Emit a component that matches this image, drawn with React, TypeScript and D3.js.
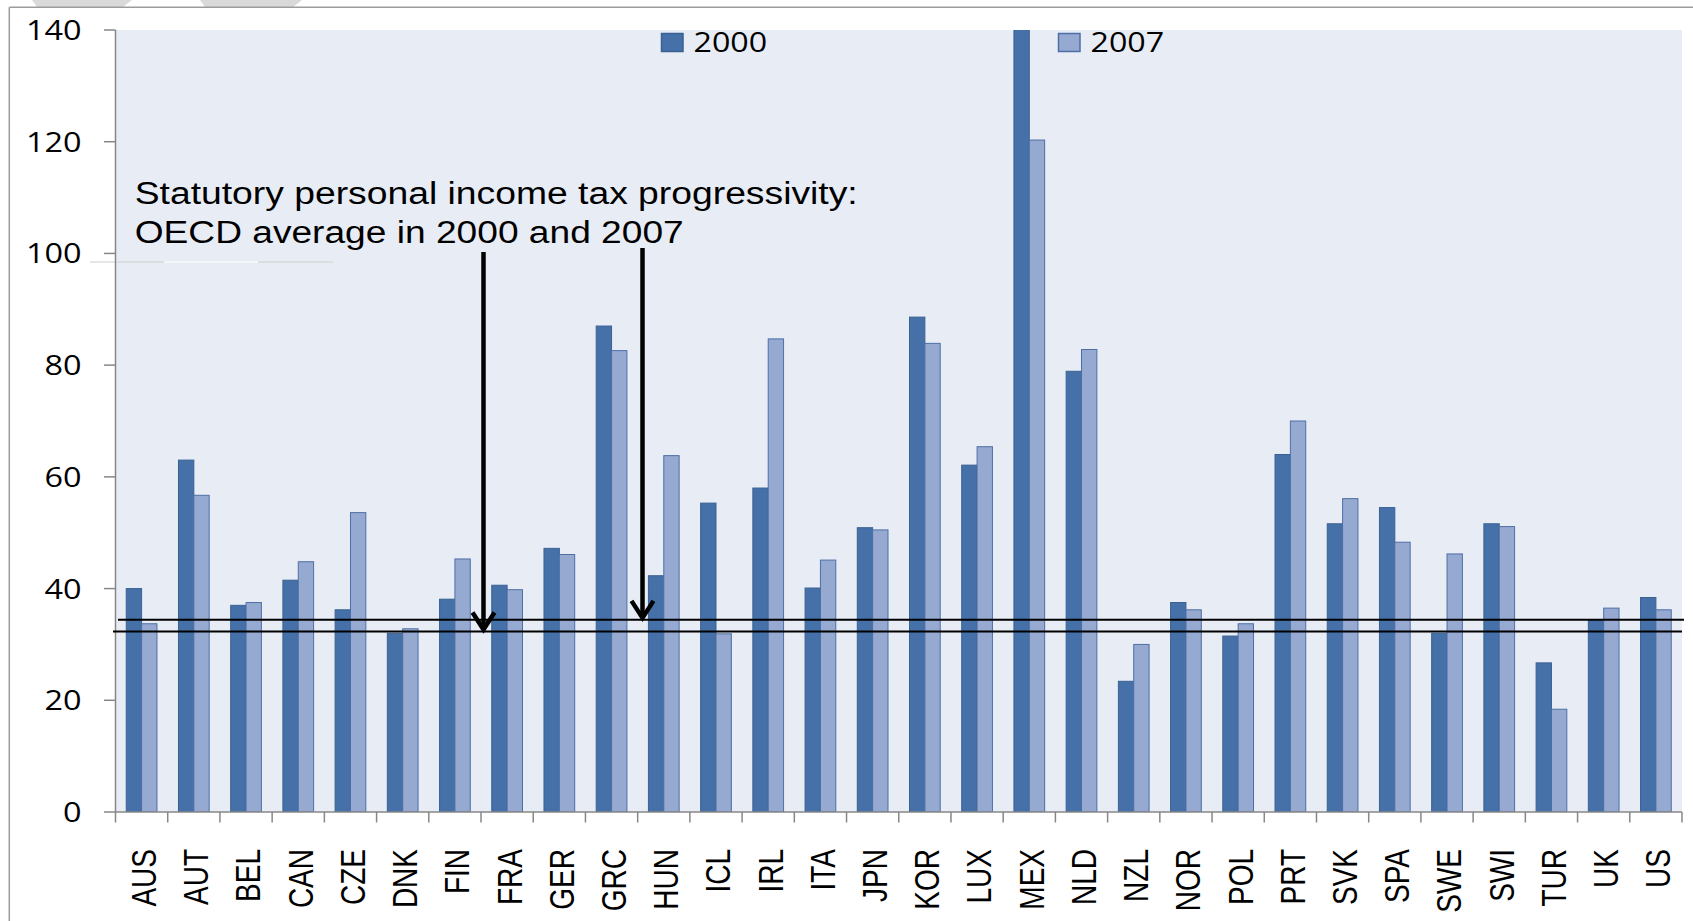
import React from "react";
import * as d3 from "d3";

const categories = ["AUS","AUT","BEL","CAN","CZE","DNK","FIN","FRA","GER","GRC","HUN","ICL","IRL","ITA","JPN","KOR","LUX","MEX","NLD","NZL","NOR","POL","PRT","SVK","SPA","SWE","SWI","TUR","UK","US"];
const values2000 = [40.0,63.0,37.0,41.5,36.2,32.0,38.1,40.6,47.2,87.0,42.3,55.3,58.0,40.1,50.9,88.6,62.1,145,78.9,23.4,37.5,31.5,64.0,51.6,54.5,32.0,51.6,26.7,34.3,38.4];
const values2007 = [33.7,56.7,37.5,44.8,53.6,32.8,45.3,39.8,46.1,82.6,63.8,31.9,84.7,45.1,50.5,83.9,65.4,120.3,82.8,30.0,36.2,33.7,70.0,56.1,48.3,46.2,51.1,18.4,36.5,36.2];
const seriesNames = ["2000", "2007"];
const yTicks = [0,20,40,60,80,100,120,140];
const oecdAverages = [32.3, 34.4]; // 2000, 2007
const annotationLines = ["Statutory personal income tax progressivity:", "OECD average in 2000 and 2007"];

const W = 1693, H = 921;
const left = 115.5, right = 1682, top = 30, bottom = 812;

const colors = { "2000": "#4571A8", "2007": "#95A9D1" };
const strokes = { "2000": "#3A6193", "2007": "#4E6FA6" };

export default function App() {
  const x0 = d3.scaleBand<string>().domain(categories).range([left, right]).paddingInner(0).paddingOuter(0);
  const x1 = d3.scaleBand<string>().domain(seriesNames).range([0, x0.step()]).paddingInner(0).paddingOuter(0.7);
  const y = d3.scaleLinear().domain([0, 140]).range([bottom, top]);
  const step = x0.step();
  const boundaries = d3.range(categories.length + 1).map(i => left + i * step);
  const data = categories.map((c, i) => ({ c, v: [values2000[i], values2007[i]] }));

  const arrows = [
    { x: 483.5, y1: 252, avg: oecdAverages[0] },
    { x: 642.5, y1: 248, avg: oecdAverages[1] },
  ];

  return (
    <svg width={W} height={H} style={{ position: "absolute", left: 0, top: 0, background: "#fff" }}>
      <defs>
        <clipPath id="plotclip"><rect x={left} y={top} width={right - left} height={bottom - top} /></clipPath>
      </defs>
      {/* slide artifacts */}
      <polygon points="32,0 132,0 123,7 37,7" fill="#d9d9d9" />
      <polygon points="200,0 302,0 293,7 205,7" fill="#d9d9d9" />
      <line x1={9.3} y1={7.3} x2={W} y2={7.3} stroke="#9c9c9c" strokeWidth={1.5} />
      <line x1={9.3} y1={7.3} x2={9.3} y2={H} stroke="#9c9c9c" strokeWidth={1.5} />

      {/* plot area */}
      <rect x={left} y={top} width={right - left} height={bottom - top} fill="#E8EDF5" />
      <line x1={90} y1={262} x2={164} y2={262} stroke="#cfcfcf" strokeWidth={1} />
      <line x1={164} y1={262} x2={258} y2={262} stroke="#ffffff" strokeWidth={1} />
      <line x1={258} y1={262} x2={333} y2={262} stroke="#cfcfcf" strokeWidth={1} />

      <g clipPath="url(#plotclip)">
        {data.map(d => (
          <g key={d.c} transform={`translate(${x0(d.c)},0)`}>
            {seriesNames.map((s, j) => (
              <rect key={s} x={x1(s)} y={y(d.v[j])} width={x1.bandwidth()} height={bottom - y(d.v[j])}
                fill={colors[s]} stroke={strokes[s]} strokeWidth={1} />
            ))}
          </g>
        ))}
      </g>

      {/* y axis */}
      <line x1={left} y1={top} x2={left} y2={bottom} stroke="#878787" strokeWidth={1.5} />
      {yTicks.map(t => (
        <g key={t}>
          <line x1={104} x2={left} y1={y(t)} y2={y(t)} stroke="#878787" strokeWidth={1.5} />
          <text transform={`translate(81.5,${y(t) + 10}) scale(1.2,1)`} textAnchor="end"
            fontFamily="'Open Sans', Lato, sans-serif" fontSize={27} fill="#000">{t}</text>
        </g>
      ))}

      {/* x axis */}
      <line x1={left} y1={bottom} x2={right} y2={bottom} stroke="#878787" strokeWidth={1.5} />
      {boundaries.map((b, i) => (
        <line key={i} x1={b} x2={b} y1={bottom} y2={bottom + 10.5} stroke="#878787" strokeWidth={1.5} />
      ))}
      {categories.map(c => (
        <text key={c} transform={`translate(${(x0(c) as number) + step / 2 + 1.5},849) scale(1.28,1) rotate(-90)`}
          textAnchor="end" dy="0.36em" fontFamily="'Liberation Sans', Arial, sans-serif" fontSize={28} fill="#000">{c}</text>
      ))}

      {/* average lines */}
      <line x1={113} x2={1682} y1={y(oecdAverages[0])} y2={y(oecdAverages[0])} stroke="#000" strokeWidth={2} />
      <line x1={118} x2={1684} y1={y(oecdAverages[1])} y2={y(oecdAverages[1])} stroke="#000" strokeWidth={2} />

      {/* annotation */}
      <text x={134.7} y={204} fontFamily="'Liberation Sans', Arial, sans-serif" fontSize={31}
        textLength={723} lengthAdjust="spacingAndGlyphs" fill="#000">{annotationLines[0]}</text>
      <text x={134.7} y={243} fontFamily="'Liberation Sans', Arial, sans-serif" fontSize={31}
        textLength={549} lengthAdjust="spacingAndGlyphs" fill="#000">{annotationLines[1]}</text>
      {arrows.map((a, i) => {
        const tip = y(a.avg) - 2;
        return (
          <g key={i} stroke="#000" strokeWidth={4.5} fill="none">
            <line x1={a.x} x2={a.x} y1={a.y1} y2={tip} />
            <polyline points={`${a.x - 11},${tip - 17} ${a.x},${tip} ${a.x + 11},${tip - 17}`} strokeLinejoin="miter" />
          </g>
        );
      })}

      {/* legend */}
      {seriesNames.map((s, i) => {
        const sx = i === 0 ? 661.5 : 1058.5;
        return (
          <g key={s}>
            <rect x={sx} y={33.5} width={21.5} height={18} fill={colors[s]} stroke={strokes[s]} strokeWidth={1.5} />
            <text transform={`translate(${sx + 32},51.7) scale(1.15,1)`} fontFamily="'Open Sans', Lato, sans-serif"
              fontSize={28} fill="#000">{s}</text>
          </g>
        );
      })}
    </svg>
  );
}
